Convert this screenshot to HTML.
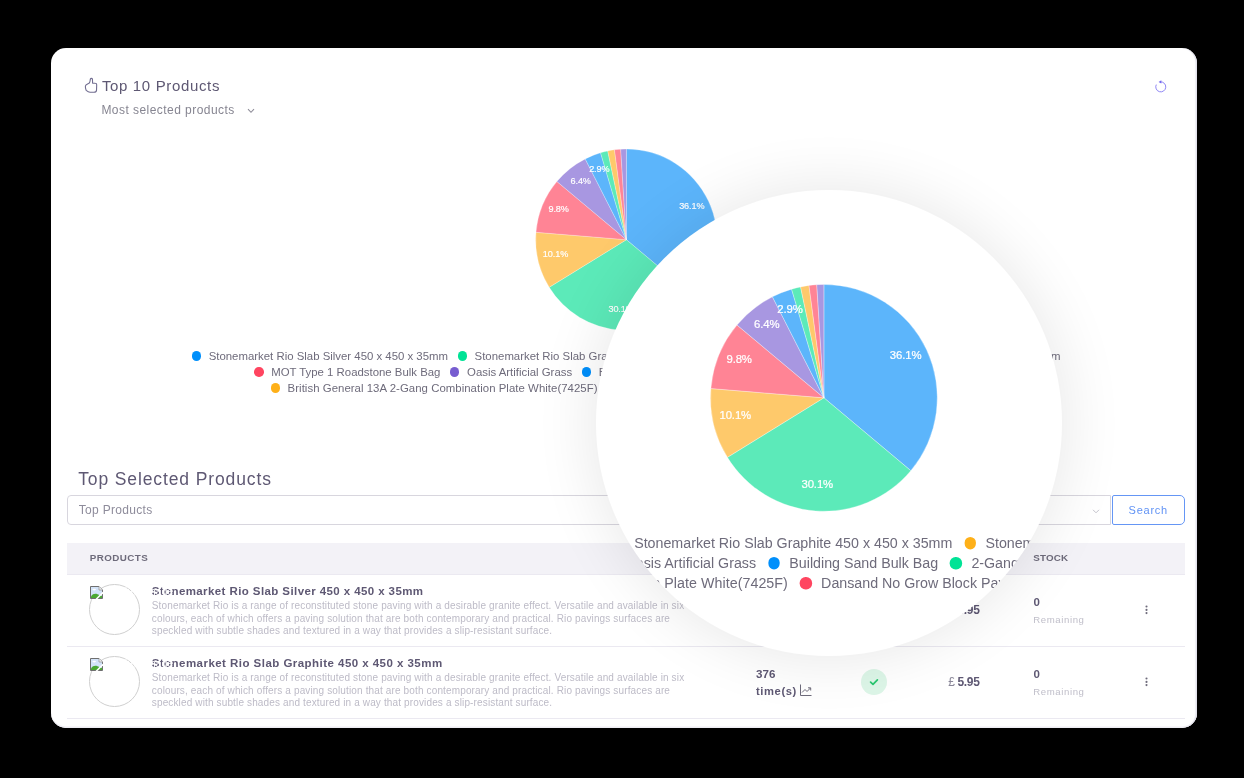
<!DOCTYPE html>
<html><head><meta charset="utf-8"><style>
*{box-sizing:border-box;margin:0;padding:0}
html,body{width:1244px;height:778px;overflow:hidden;background:#000}
body{position:relative;font-family:"Liberation Sans", sans-serif}
.card{position:absolute;left:51px;top:48px;width:1145.8px;height:679.6px;background:#fff;border-radius:15px;overflow:hidden;box-shadow:inset -2px 0 1px -0.5px #e2e1eb,inset 0 -1.5px 0 #efeef4}
.page{position:absolute;left:-51px;top:-48px;width:1244px;height:778px;will-change:transform}
.t{position:absolute;white-space:nowrap}
.pie{position:absolute;left:0;top:0}
.lrow{position:absolute;display:flex;white-space:nowrap;font-size:11.4px;line-height:11.4px;color:#6e6b7b}
.li{display:flex;align-items:center;margin-right:9.5px}
.li i{display:inline-block;width:9.5px;height:9.5px;border-radius:50%;margin-right:7.6px;position:relative;top:-0.6px}
.h1{letter-spacing:0.65px;color:#5e5873}
.h1s{letter-spacing:0.5px;color:#868591}
.h2{letter-spacing:0.84px;color:#5e5873}
.inp{position:absolute;left:67.2px;top:495.4px;width:1044.2px;height:30px;border:1px solid #d8d6de;border-radius:4px 0 0 4px}
.btn{position:absolute;left:1111.5px;top:495.2px;width:73.4px;height:30.1px;border:1px solid #6596f5;border-radius:2px 5px 5px 2px}
.btnt{color:#6193f5;letter-spacing:0.75px}
.ph{color:#8e8c9b;letter-spacing:0.31px}
.thead{position:absolute;left:67px;top:542.9px;width:1117.9px;height:31.9px;background:#f3f2f7;border-bottom:1px solid #ebe9f1}
.th{font-weight:700;color:#6e6b7b;letter-spacing:0.2px}
.img{position:absolute;width:51.3px;height:51.3px;border:1px solid #cfcfcf;border-radius:50%}
.bi{position:absolute;width:13px;height:13px}
.alt{color:#fff;letter-spacing:0.3px}
.rt{font-weight:700;color:#5e5873;letter-spacing:0.15px}
.rd{color:#bdbbc7;letter-spacing:0.14px}
.rc{font-weight:700;color:#5e5873}
.chk{position:absolute;width:26px;height:26px}
.rp{font-weight:700;color:#5e5873}
.rs{font-weight:700;color:#5e5873}
.rr{color:#c0bfca;letter-spacing:0.2px}
.keb{position:absolute;width:1.8px;height:8.8px;display:flex;flex-direction:column;justify-content:space-between}
.keb i{display:block;width:1.8px;height:1.8px;border-radius:0.9px;background:#6e6b7b}
.sep{position:absolute;left:66.8px;width:1118.1px;height:1px;background:#ebe9f1}
.mag{position:absolute;left:596px;top:190px;width:466px;height:466px;border-radius:50%;background:#fff;overflow:hidden;box-shadow:0 0 60px 5px rgba(0,0,0,0.09)}
.magin{position:absolute;left:0;top:0;width:1244px;height:778px;transform-origin:0 0;transform:translate(-555.10px,-91.80px) scale(1.25)}
</style></head><body>
<div class="card"><div class="page">
<svg class="t" style="left:80px;top:74px" width="24" height="24" viewBox="0 0 24 24"><path d="M6.2 16.4 C5.6 15.2 5.3 13.4 5.4 12 C5.6 10.2 8.2 9.8 9.3 9 C10.2 8.2 10.1 6 10.4 5 C10.7 4.1 12.2 4.1 12.4 5.2 C12.6 6.3 12.5 8 12.6 9.2 L15.3 9.3 C16.2 9.3 16.7 9.9 16.7 10.8 L16.5 16.4 C16.4 17.6 15.4 18.3 14 18.3 L10 18.2 C8.4 18.1 7.2 17.2 6.2 16.4 Z" fill="none" stroke="#716d90" stroke-width="1.1" stroke-linejoin="round"/></svg>
<div class="t h1" style="left:101.9px;top:78.20px;font-size:15px;line-height:15px;">Top 10 Products</div>
<div class="t h1s" style="left:101.4px;top:103.94px;font-size:12px;line-height:12px;letter-spacing:0.45px">Most selected products</div>
<svg class="t" style="left:247px;top:107.5px" width="8" height="6" viewBox="0 0 8 6"><path d="M1 1.2 L4 4.3 L7 1.2" fill="none" stroke="#8f8d99" stroke-width="1.1"/></svg>
<svg class="t" style="left:1154.4px;top:80px" width="13" height="13" viewBox="0 0 13 13"><path d="M2.3 4.6 A5 5 0 1 0 6.2 1.9" fill="none" stroke="#7a70f2" stroke-width="1" opacity="0.85"/><path d="M7.3 0.3 L4.6 1.9 L7.3 3.6 Z" fill="#7367f0"/></svg>
<svg class="pie" width="1244" height="778" viewBox="0 0 1244 778"><g><path d="M626.40,239.70 L626.40,149.00 A90.7,90.7 0 0 1 695.92,297.95 Z" fill="#5cb5fb" stroke="#fff" stroke-width="0.25"/><path d="M626.40,239.70 L695.92,297.95 A90.7,90.7 0 0 1 549.21,287.33 Z" fill="#5ceab9" stroke="#fff" stroke-width="0.25"/><path d="M626.40,239.70 L549.21,287.33 A90.7,90.7 0 0 1 536.00,232.30 Z" fill="#fec96b" stroke="#fff" stroke-width="0.25"/><path d="M626.40,239.70 L536.00,232.30 A90.7,90.7 0 0 1 556.88,181.45 Z" fill="#ff8495" stroke="#fff" stroke-width="0.25"/><path d="M626.40,239.70 L556.88,181.45 A90.7,90.7 0 0 1 585.22,158.89 Z" fill="#a897e1" stroke="#fff" stroke-width="0.25"/><path d="M626.40,239.70 L585.22,158.89 A90.7,90.7 0 0 1 600.55,152.76 Z" fill="#5cb5fb" stroke="#fff" stroke-width="0.25"/><path d="M626.40,239.70 L600.55,152.76 A90.7,90.7 0 0 1 607.73,150.94 Z" fill="#5ceab9" stroke="#fff" stroke-width="0.25"/><path d="M626.40,239.70 L607.73,150.94 A90.7,90.7 0 0 1 614.47,149.79 Z" fill="#fec96b" stroke="#fff" stroke-width="0.25"/><path d="M626.40,239.70 L614.47,149.79 A90.7,90.7 0 0 1 620.70,149.18 Z" fill="#ff8495" stroke="#fff" stroke-width="0.25"/><path d="M626.40,239.70 L620.70,149.18 A90.7,90.7 0 0 1 626.40,149.00 Z" fill="#a897e1" stroke="#fff" stroke-width="0.25"/></g><g font-family='"Liberation Sans", sans-serif' font-size="9.1" font-weight="400" fill="#fff" stroke="#fff" stroke-width="0.18" style="letter-spacing:-0.1px"><text x="691.8" y="208.8" text-anchor="middle">36.1%</text><text x="621.1" y="312.1" text-anchor="middle">30.1%</text><text x="555.5" y="256.9" text-anchor="middle">10.1%</text><text x="558.6" y="212.1" text-anchor="middle">9.8%</text><text x="580.7" y="183.6" text-anchor="middle">6.4%</text><text x="599.3" y="172.1" text-anchor="middle">2.9%</text></g></svg><div class="legend"><div class="lrow" style="left:191.6px;top:350.95px"><span class="li"><i style="background:#008ffb"></i>Stonemarket Rio Slab Silver 450 x 450 x 35mm</span><span class="li"><i style="background:#00e396"></i>Stonemarket Rio Slab Graphite 450 x 450 x 35mm</span><span class="li"><i style="background:#feb019"></i><span style="letter-spacing:-0.03px">Stonemarket Sandstone Paving Slab Buff 450 x 450 x 35mm</span></span></div><div class="lrow" style="left:254.1px;top:366.95px"><span class="li"><i style="background:#ff4560"></i>MOT Type 1 Roadstone Bulk Bag</span><span class="li"><i style="background:#775dd0"></i>Oasis Artificial Grass</span><span class="li"><i style="background:#008ffb"></i>Building Sand Bulk Bag</span><span class="li"><i style="background:#00e396"></i>2-Gang 13A Switched Socket White Metal (7222W)</span></div><div class="lrow" style="left:270.5px;top:382.95px"><span class="li"><i style="background:#feb019"></i><span style="letter-spacing:0.04px">British General 13A 2-Gang Combination Plate White(7425F)</span></span><span class="li"><i style="background:#ff4560"></i>Dansand No Grow Block Paving Sand</span><span class="li"><i style="background:#775dd0"></i>Type 1 Sub Base Bulk Bag</span></div></div>
<div class="t h2" style="left:78.2px;top:470.79px;font-size:17.5px;line-height:17.5px;letter-spacing:0.88px">Top Selected Products</div>
<div class="inp"></div>
<div class="t ph" style="left:78.8px;top:503.94px;font-size:12px;line-height:12px;">Top Products</div>
<svg class="t" style="left:1091.5px;top:509px" width="8" height="5" viewBox="0 0 8 5"><path d="M1 0.8 L4 3.8 L7 0.8" fill="none" stroke="#c4c3cc" stroke-width="1"/></svg>
<div class="btn"></div><div class="t btnt" style="left:1128.6px;top:504.69px;font-size:11px;line-height:11px;">Search</div>
<div class="thead"></div>
<div class="t th" style="left:89.7px;top:553.00px;font-size:9.8px;line-height:9.8px;letter-spacing:0.45px">PRODUCTS</div>
<div class="t th" style="left:1033.3px;top:553.00px;font-size:9.8px;line-height:9.8px;letter-spacing:0.15px">STOCK</div>

<div class="img" style="left:89.2px;top:584.2px"></div>
<div class="bi" style="left:90px;top:585.2px"><svg width="13" height="13" viewBox="0 0 13 13"><path d="M0.5 0.5 H9 L12.5 4 V12.5 H0.5 Z" fill="#d3e3f8" stroke="#6f6f6f" stroke-width="1"/><path d="M9 0.5 V4 H12.5" fill="#f0f0f0" stroke="#9a9a9a" stroke-width="0.8"/><ellipse cx="4.2" cy="3.6" rx="1.8" ry="0.8" fill="#fff"/><path d="M1 12 V10.3 C2.5 8 5 7.3 7.5 8.2 L12 10 V12 Z" fill="#4aa832"/><path d="M6.2 13.2 L13.2 6.2" stroke="#fff" stroke-width="1.6"/></svg></div>
<div class="t rt" style="left:151.7px;top:586.07px;font-size:11.5px;line-height:11.5px;letter-spacing:0.41px">Stonemarket Rio Slab Silver 450 x 450 x 35mm</div><div class="t alt" style="left:105px;top:586.74px;font-size:10px;line-height:10px;">Product image</div><div class="t rd" style="left:151.8px;top:601.03px;font-size:10px;line-height:10px;">Stonemarket Rio is a range of reconstituted stone paving with a desirable granite effect. Versatile and available in six</div><div class="t rd" style="left:151.8px;top:613.74px;font-size:10px;line-height:10px;">colours, each of which offers a paving solution that are both contemporary and practical. Rio pavings surfaces are</div><div class="t rd" style="left:151.8px;top:626.03px;font-size:10px;line-height:10px;">speckled with subtle shades and textured in a way that provides a slip-resistant surface.</div><div class="t rc" style="left:756.0px;top:596.28px;font-size:11.6px;line-height:11.6px;">376</div><div class="t rc" style="left:756.0px;top:612.32px;font-size:11.2px;line-height:11.2px;"><span style="letter-spacing:0.6px">time(s)</span> <svg width="12" height="12" viewBox="0 0 12 12" style="vertical-align:-1px"><path d="M0.5 0.5 V11.5 H11.5 M2 8.5 L5 5.5 L7 7.5 L10.5 4 M8 3.8 H10.7 V6.5" fill="none" stroke="#6e6b7b" stroke-width="1"/></svg></div><div class="chk" style="left:861px;top:597.2px"><svg width="26" height="26" viewBox="0 0 26 26"><circle cx="13" cy="13" r="13" fill="#ddf6e8"/><path d="M9.6 13.1 L12 15.4 L16.4 10.8" fill="none" stroke="#28c76f" stroke-width="1.7" stroke-linecap="round" stroke-linejoin="round"/></svg></div><div class="t rp" style="left:948.2px;top:603.74px;font-size:12px;line-height:12px;letter-spacing:-0.35px"><span style="font-weight:400;color:#8a8799">£</span> 5.95</div><div class="t rs" style="left:1033.4px;top:596.97px;font-size:11.5px;line-height:11.5px;">0</div><div class="t rr" style="left:1033.3px;top:615.27px;font-size:9.6px;line-height:9.6px;letter-spacing:0.6px">Remaining</div><svg class="t" style="left:1144.8px;top:604.9px" width="3" height="10" viewBox="0 0 3 10"><g fill="#6e6b7b"><circle cx="1.5" cy="1.5" r="1.05"/><circle cx="1.5" cy="4.9" r="1.05"/><circle cx="1.5" cy="8.1" r="1.05"/></g></svg><div class="sep" style="top:646px"></div>

<div class="img" style="left:89.2px;top:656.2px"></div>
<div class="bi" style="left:90px;top:657.2px"><svg width="13" height="13" viewBox="0 0 13 13"><path d="M0.5 0.5 H9 L12.5 4 V12.5 H0.5 Z" fill="#d3e3f8" stroke="#6f6f6f" stroke-width="1"/><path d="M9 0.5 V4 H12.5" fill="#f0f0f0" stroke="#9a9a9a" stroke-width="0.8"/><ellipse cx="4.2" cy="3.6" rx="1.8" ry="0.8" fill="#fff"/><path d="M1 12 V10.3 C2.5 8 5 7.3 7.5 8.2 L12 10 V12 Z" fill="#4aa832"/><path d="M6.2 13.2 L13.2 6.2" stroke="#fff" stroke-width="1.6"/></svg></div>
<div class="t rt" style="left:151.7px;top:658.07px;font-size:11.5px;line-height:11.5px;letter-spacing:0.46px">Stonemarket Rio Slab Graphite 450 x 450 x 35mm</div><div class="t alt" style="left:105px;top:658.74px;font-size:10px;line-height:10px;">Product image</div><div class="t rd" style="left:151.8px;top:673.03px;font-size:10px;line-height:10px;">Stonemarket Rio is a range of reconstituted stone paving with a desirable granite effect. Versatile and available in six</div><div class="t rd" style="left:151.8px;top:685.74px;font-size:10px;line-height:10px;">colours, each of which offers a paving solution that are both contemporary and practical. Rio pavings surfaces are</div><div class="t rd" style="left:151.8px;top:698.03px;font-size:10px;line-height:10px;">speckled with subtle shades and textured in a way that provides a slip-resistant surface.</div><div class="t rc" style="left:756.0px;top:668.28px;font-size:11.6px;line-height:11.6px;">376</div><div class="t rc" style="left:756.0px;top:684.32px;font-size:11.2px;line-height:11.2px;"><span style="letter-spacing:0.6px">time(s)</span> <svg width="12" height="12" viewBox="0 0 12 12" style="vertical-align:-1px"><path d="M0.5 0.5 V11.5 H11.5 M2 8.5 L5 5.5 L7 7.5 L10.5 4 M8 3.8 H10.7 V6.5" fill="none" stroke="#6e6b7b" stroke-width="1"/></svg></div><div class="chk" style="left:861px;top:669.2px"><svg width="26" height="26" viewBox="0 0 26 26"><circle cx="13" cy="13" r="13" fill="#ddf6e8"/><path d="M9.6 13.1 L12 15.4 L16.4 10.8" fill="none" stroke="#28c76f" stroke-width="1.7" stroke-linecap="round" stroke-linejoin="round"/></svg></div><div class="t rp" style="left:948.2px;top:675.74px;font-size:12px;line-height:12px;letter-spacing:-0.35px"><span style="font-weight:400;color:#8a8799">£</span> 5.95</div><div class="t rs" style="left:1033.4px;top:668.97px;font-size:11.5px;line-height:11.5px;">0</div><div class="t rr" style="left:1033.3px;top:687.27px;font-size:9.6px;line-height:9.6px;letter-spacing:0.6px">Remaining</div><svg class="t" style="left:1144.8px;top:676.9px" width="3" height="10" viewBox="0 0 3 10"><g fill="#6e6b7b"><circle cx="1.5" cy="1.5" r="1.05"/><circle cx="1.5" cy="4.9" r="1.05"/><circle cx="1.5" cy="8.1" r="1.05"/></g></svg><div class="sep" style="top:718px"></div>
</div></div>
<div class="mag"><div class="magin"><svg class="pie" width="1244" height="778" viewBox="0 0 1244 778"><g><path d="M626.40,239.70 L626.40,149.00 A90.7,90.7 0 0 1 695.92,297.95 Z" fill="#5cb5fb" stroke="#fff" stroke-width="0.25"/><path d="M626.40,239.70 L695.92,297.95 A90.7,90.7 0 0 1 549.21,287.33 Z" fill="#5ceab9" stroke="#fff" stroke-width="0.25"/><path d="M626.40,239.70 L549.21,287.33 A90.7,90.7 0 0 1 536.00,232.30 Z" fill="#fec96b" stroke="#fff" stroke-width="0.25"/><path d="M626.40,239.70 L536.00,232.30 A90.7,90.7 0 0 1 556.88,181.45 Z" fill="#ff8495" stroke="#fff" stroke-width="0.25"/><path d="M626.40,239.70 L556.88,181.45 A90.7,90.7 0 0 1 585.22,158.89 Z" fill="#a897e1" stroke="#fff" stroke-width="0.25"/><path d="M626.40,239.70 L585.22,158.89 A90.7,90.7 0 0 1 600.55,152.76 Z" fill="#5cb5fb" stroke="#fff" stroke-width="0.25"/><path d="M626.40,239.70 L600.55,152.76 A90.7,90.7 0 0 1 607.73,150.94 Z" fill="#5ceab9" stroke="#fff" stroke-width="0.25"/><path d="M626.40,239.70 L607.73,150.94 A90.7,90.7 0 0 1 614.47,149.79 Z" fill="#fec96b" stroke="#fff" stroke-width="0.25"/><path d="M626.40,239.70 L614.47,149.79 A90.7,90.7 0 0 1 620.70,149.18 Z" fill="#ff8495" stroke="#fff" stroke-width="0.25"/><path d="M626.40,239.70 L620.70,149.18 A90.7,90.7 0 0 1 626.40,149.00 Z" fill="#a897e1" stroke="#fff" stroke-width="0.25"/></g><g font-family='"Liberation Sans", sans-serif' font-size="9.1" font-weight="400" fill="#fff" stroke="#fff" stroke-width="0.18" style="letter-spacing:-0.1px"><text x="691.8" y="208.8" text-anchor="middle">36.1%</text><text x="621.1" y="312.1" text-anchor="middle">30.1%</text><text x="555.5" y="256.9" text-anchor="middle">10.1%</text><text x="558.6" y="212.1" text-anchor="middle">9.8%</text><text x="580.7" y="183.6" text-anchor="middle">6.4%</text><text x="599.3" y="172.1" text-anchor="middle">2.9%</text></g></svg><div class="legend"><div class="lrow" style="left:191.6px;top:350.95px"><span class="li"><i style="background:#008ffb"></i>Stonemarket Rio Slab Silver 450 x 450 x 35mm</span><span class="li"><i style="background:#00e396"></i>Stonemarket Rio Slab Graphite 450 x 450 x 35mm</span><span class="li"><i style="background:#feb019"></i><span style="letter-spacing:-0.03px">Stonemarket Sandstone Paving Slab Buff 450 x 450 x 35mm</span></span></div><div class="lrow" style="left:254.1px;top:366.95px"><span class="li"><i style="background:#ff4560"></i>MOT Type 1 Roadstone Bulk Bag</span><span class="li"><i style="background:#775dd0"></i>Oasis Artificial Grass</span><span class="li"><i style="background:#008ffb"></i>Building Sand Bulk Bag</span><span class="li"><i style="background:#00e396"></i>2-Gang 13A Switched Socket White Metal (7222W)</span></div><div class="lrow" style="left:270.5px;top:382.95px"><span class="li"><i style="background:#feb019"></i><span style="letter-spacing:0.04px">British General 13A 2-Gang Combination Plate White(7425F)</span></span><span class="li"><i style="background:#ff4560"></i>Dansand No Grow Block Paving Sand</span><span class="li"><i style="background:#775dd0"></i>Type 1 Sub Base Bulk Bag</span></div></div></div></div>
</body></html>
